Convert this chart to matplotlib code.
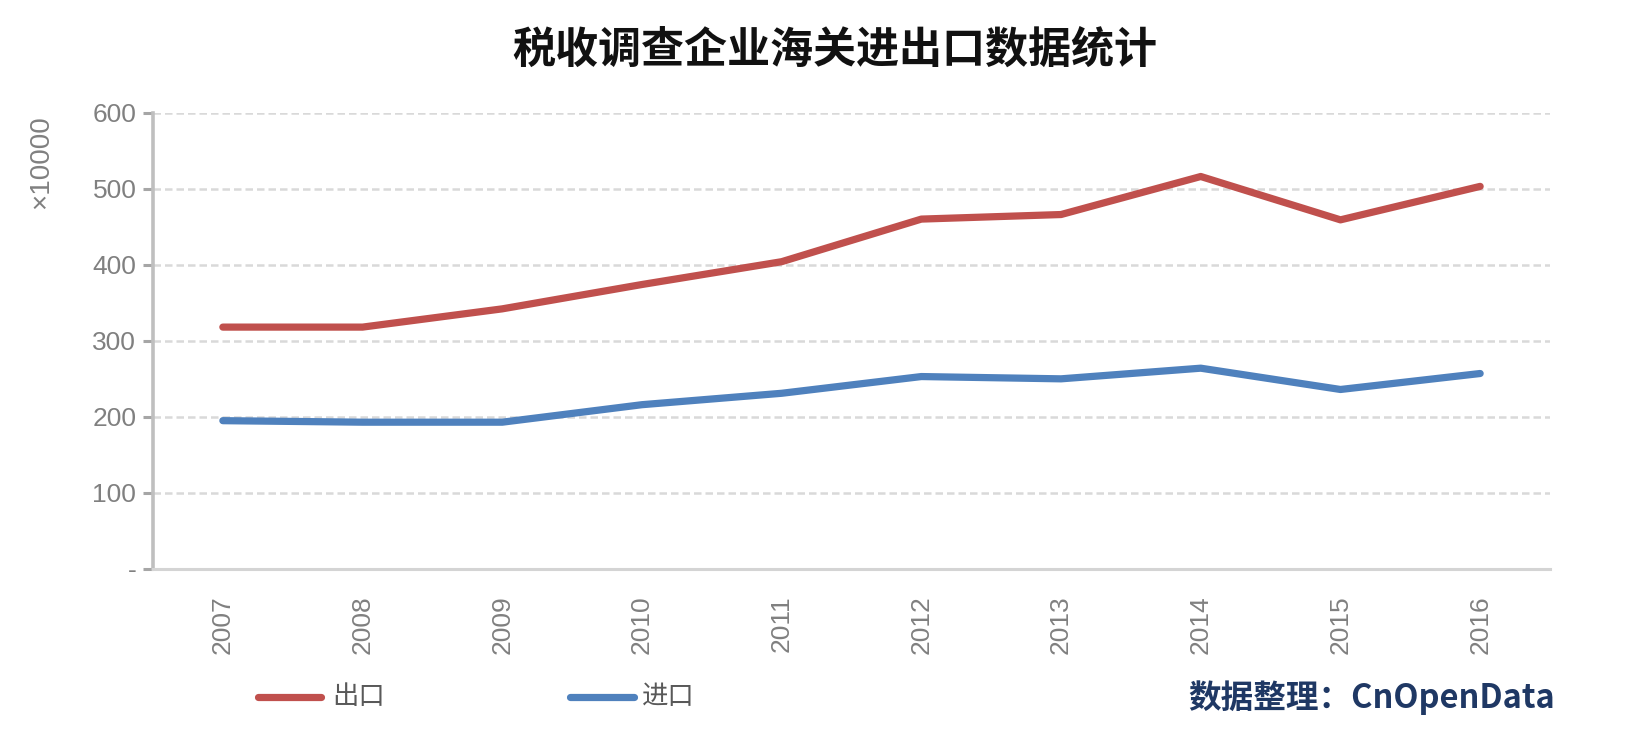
import matplotlib
matplotlib.use("Agg")
import matplotlib.pyplot as plt
from matplotlib.lines import Line2D
from matplotlib.ticker import FixedLocator, FuncFormatter

years = ["2007", "2008", "2009", "2010", "2011", "2012", "2013", "2014", "2015", "2016"]
export_vals = [318, 318, 342, 374, 404, 460, 466, 516, 459, 503]
import_vals = [195, 193, 193, 216, 231, 253, 250, 264, 236, 257]
y_ticks = [0, 100, 200, 300, 400, 500, 600]

plt.rcParams['font.family'] = ['Liberation Sans', 'Noto Sans CJK SC', 'DejaVu Sans']
CJK = ['Noto Sans CJK SC', 'DejaVu Sans']

red = '#C0504D'
blue = '#4F81BD'
gray = '#808080'

W, H = 1630, 732
fig = plt.figure(figsize=(W / 100, H / 100), dpi=100)
ax = fig.add_axes([153 / W, 1 - 569 / H, (1550 - 153) / W, (569 - 112.6) / H])

x = list(range(len(years)))
ax.plot(x, export_vals, color=red, lw=5.2, solid_capstyle='round', solid_joinstyle='round', zorder=3)
ax.plot(x, import_vals, color=blue, lw=5.2, solid_capstyle='round', solid_joinstyle='round', zorder=3)

ax.set_xlim(-0.5, len(years) - 0.5)
ax.set_ylim(0, 600)
ax.yaxis.set_major_locator(FixedLocator(y_ticks))
ax.yaxis.set_major_formatter(FuncFormatter(lambda v, p: '-' if v == 0 else f"{int(v)}"))
ax.set_xticks(x)
ax.set_xticklabels(years, rotation=90)

for v in y_ticks[1:]:
    ax.axhline(v, color='#D9D9D9', lw=1.8, ls=(0, (3.0, 1.6)), zorder=1)

for s in ['top', 'right']:
    ax.spines[s].set_visible(False)
ax.spines['left'].set_color('#BFBFBF')
ax.spines['left'].set_linewidth(2.6)
ax.spines['bottom'].set_color('#D4D4D4')
ax.spines['bottom'].set_linewidth(2.2)

ax.tick_params(axis='y', colors='#A6A6A6', length=7, width=2.2, labelcolor=gray, labelsize=19, pad=5)
ax.tick_params(axis='x', length=0, labelcolor=gray, labelsize=19, pad=19)

fig.text(41 / W, 1 - 162 / H, '×10000', rotation=90, color=gray, fontsize=20,
         ha='center', va='center')

fig.text(835 / W, 1 - 50 / H, '税收调查企业海关进出口数据统计', family=CJK, fontsize=31,
         fontweight='bold', ha='center', va='center', color='#111111')

# legend
ly = 1 - 697 / H
fig.add_artist(Line2D([258 / W, 321 / W], [ly, ly], color=red, lw=5.2, solid_capstyle='round'))
fig.text(332 / W, ly, '出口', family=CJK, fontsize=19, color='#595959', va='center', ha='left')
fig.add_artist(Line2D([570 / W, 634 / W], [ly, ly], color=blue, lw=5.2, solid_capstyle='round'))
fig.text(642 / W, ly, '进口', family=CJK, fontsize=19, color='#595959', va='center', ha='left')

fig.text(1555 / W, 1 - 698 / H, '数据整理：CnOpenData', family=CJK, fontsize=23.5,
         fontweight='bold', color='#1F3864', va='center', ha='right')

fig.savefig('out.png', dpi=100, facecolor='white')
